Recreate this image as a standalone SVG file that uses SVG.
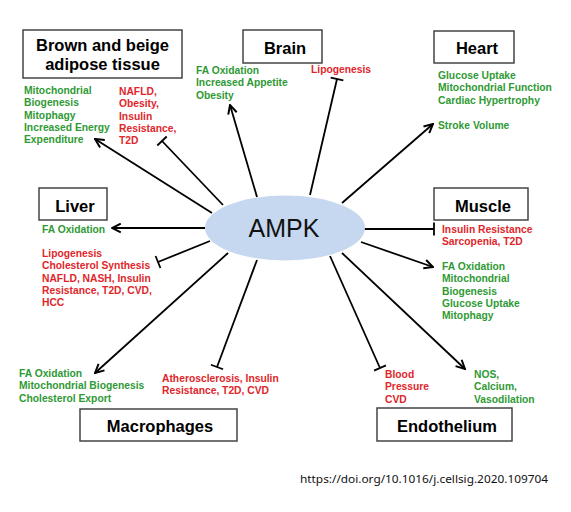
<svg xmlns="http://www.w3.org/2000/svg" width="571" height="512" viewBox="0 0 571 512">
<defs>
<marker id="arr" viewBox="0 0 10 10" refX="9" refY="5" markerWidth="11" markerHeight="11" markerUnits="userSpaceOnUse" orient="auto">
<path d="M1,1 L9,5 L1,9" fill="none" stroke="#000" stroke-width="1.8"/>
</marker>
<marker id="tee" viewBox="-2 -7 4 14" refX="0" refY="0" markerWidth="4" markerHeight="14" markerUnits="userSpaceOnUse" orient="auto">
<path d="M0,-6.5 L0,6.5" stroke="#000" stroke-width="1.8"/>
</marker>
<style>
.box{fill:#fff;stroke:#444;stroke-width:1.5}
.title{font-family:"Liberation Sans",Arial,sans-serif;font-weight:bold;font-size:16.5px;fill:#000;text-anchor:middle}
.lbl{font-family:"Liberation Sans",Arial,sans-serif;font-weight:bold;font-size:10.3px}
.g{fill:#2f9a35}
.r{fill:#e0262b}
.act{stroke:#000;stroke-width:1.8;fill:none;marker-end:url(#arr)}
.inh{stroke:#000;stroke-width:1.8;fill:none;marker-end:url(#tee)}
</style>
</defs>
<rect width="571" height="512" fill="#fff"/>
<g id="connectors">
<line class="act" x1="212" y1="213" x2="95" y2="139"/>
<line class="inh" x1="223" y1="205" x2="162" y2="141"/>
<line class="act" x1="257" y1="197" x2="230" y2="105"/>
<line class="inh" x1="310" y1="195" x2="337" y2="79"/>
<line class="act" x1="342" y1="203" x2="433" y2="124"/>
<line class="act" x1="205" y1="228" x2="112" y2="228"/>
<line class="inh" x1="210" y1="241" x2="158" y2="262"/>
<line class="inh" x1="360" y1="229" x2="434" y2="229"/>
<line class="act" x1="361" y1="242" x2="433" y2="267"/>
<line class="act" x1="228" y1="253" x2="95" y2="373"/>
<line class="inh" x1="257" y1="260" x2="217" y2="367"/>
<line class="inh" x1="330" y1="256" x2="380" y2="368"/>
<line class="act" x1="342" y1="253" x2="465" y2="369"/>
</g>
<g id="ampk">
<ellipse cx="285" cy="228" rx="80" ry="32.5" fill="#c6d8ef"/>
<text x="284" y="237" font-family="'Liberation Sans',Arial,sans-serif" font-size="25" text-anchor="middle" fill="#111">AMPK</text>
</g>
<g id="adipose">
<rect class="box" x="23" y="30" width="159" height="48"/>
<text class="title" x="102.5" y="51">Brown and beige</text>
<text class="title" x="102.5" y="70">adipose tissue</text>
<text class="lbl g" x="24" y="94">Mitochondrial</text>
<text class="lbl g" x="24" y="106.3">Biogenesis</text>
<text class="lbl g" x="24" y="118.6">Mitophagy</text>
<text class="lbl g" x="24" y="130.9">Increased Energy</text>
<text class="lbl g" x="24" y="143.2">Expenditure</text>
<text class="lbl r" x="119" y="95">NAFLD,</text>
<text class="lbl r" x="119" y="107.3">Obesity,</text>
<text class="lbl r" x="119" y="119.6">Insulin</text>
<text class="lbl r" x="119" y="131.9">Resistance,</text>
<text class="lbl r" x="119" y="144.2">T2D</text>
</g>
<g id="brain">
<rect class="box" x="243" y="30" width="79" height="33"/>
<text class="title" x="285" y="54">Brain</text>
<text class="lbl g" x="196" y="74">FA Oxidation</text>
<text class="lbl g" x="196" y="86.3">Increased Appetite</text>
<text class="lbl g" x="196" y="98.6">Obesity</text>
<text class="lbl r" x="311" y="73">Lipogenesis</text>
</g>
<g id="heart">
<rect class="box" x="434" y="31" width="80" height="32"/>
<text class="title" x="477" y="54">Heart</text>
<text class="lbl g" x="438" y="79">Glucose Uptake</text>
<text class="lbl g" x="438" y="91.3">Mitochondrial Function</text>
<text class="lbl g" x="438" y="103.6">Cardiac Hypertrophy</text>
<text class="lbl g" x="438" y="129">Stroke Volume</text>
</g>
<g id="liver">
<rect class="box" x="39" y="188" width="68" height="32"/>
<text class="title" x="75" y="212">Liver</text>
<text class="lbl g" x="42" y="233">FA Oxidation</text>
<text class="lbl r" x="42" y="257">Lipogenesis</text>
<text class="lbl r" x="42" y="269.3">Cholesterol Synthesis</text>
<text class="lbl r" x="42" y="281.6">NAFLD, NASH, Insulin</text>
<text class="lbl r" x="42" y="293.9">Resistance, T2D, CVD,</text>
<text class="lbl r" x="42" y="306.2">HCC</text>
</g>
<g id="muscle">
<rect class="box" x="434" y="188" width="94" height="32"/>
<text class="title" x="483" y="212">Muscle</text>
<text class="lbl r" x="442" y="233">Insulin Resistance</text>
<text class="lbl r" x="442" y="245.3">Sarcopenia, T2D</text>
<text class="lbl g" x="442" y="270">FA Oxidation</text>
<text class="lbl g" x="442" y="282.3">Mitochondrial</text>
<text class="lbl g" x="442" y="294.6">Biogenesis</text>
<text class="lbl g" x="442" y="306.9">Glucose Uptake</text>
<text class="lbl g" x="442" y="319.2">Mitophagy</text>
</g>
<g id="macrophages">
<rect class="box" x="80" y="409" width="157" height="32"/>
<text class="title" x="160" y="432">Macrophages</text>
<text class="lbl g" x="19" y="377">FA Oxidation</text>
<text class="lbl g" x="19" y="389.3">Mitochondrial Biogenesis</text>
<text class="lbl g" x="19" y="401.6">Cholesterol Export</text>
<text class="lbl r" x="162" y="382">Atherosclerosis, Insulin</text>
<text class="lbl r" x="162" y="394.3">Resistance, T2D, CVD</text>
</g>
<g id="endothelium">
<rect class="box" x="377" y="408" width="135" height="33"/>
<text class="title" x="447" y="432">Endothelium</text>
<text class="lbl r" x="385" y="378">Blood</text>
<text class="lbl r" x="385" y="390.3">Pressure</text>
<text class="lbl r" x="385" y="402.6">CVD</text>
<text class="lbl g" x="474" y="378">NOS,</text>
<text class="lbl g" x="474" y="390.3">Calcium,</text>
<text class="lbl g" x="474" y="402.6">Vasodilation</text>
</g>
<text x="300" y="483" font-family="'Noto Sans','DejaVu Sans',sans-serif" font-size="11" fill="#111" textLength="248" lengthAdjust="spacingAndGlyphs">https://doi.org/10.1016/j.cellsig.2020.109704</text>
</svg>
